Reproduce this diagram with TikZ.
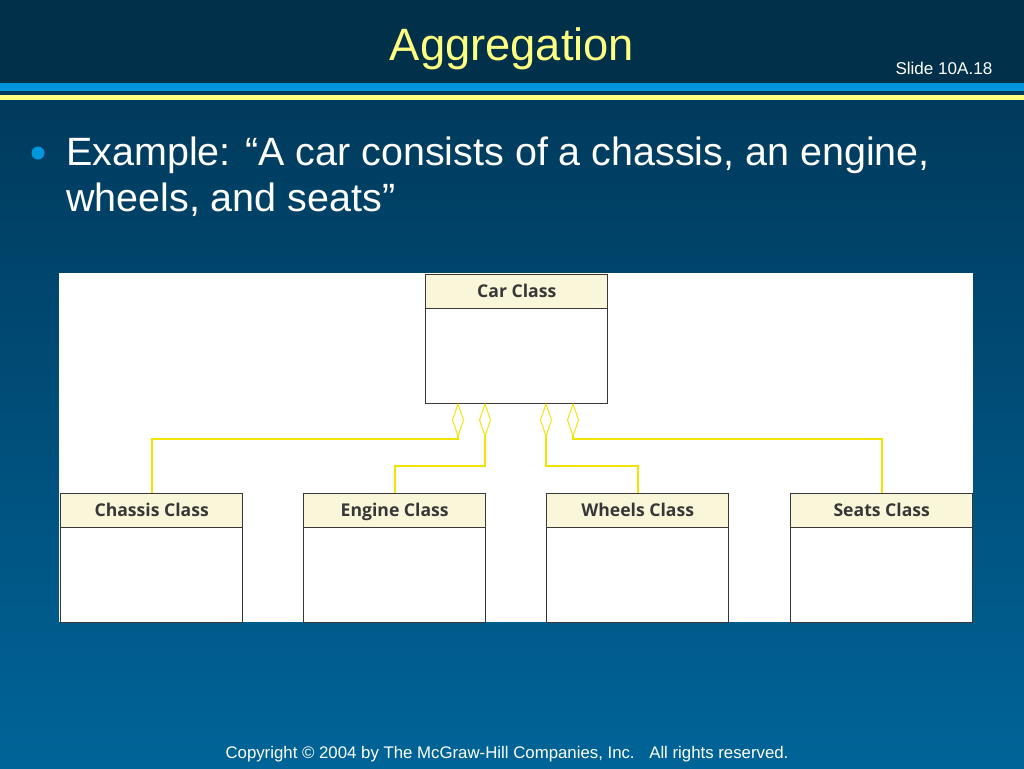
\documentclass[tikz,border=0pt]{standalone}
\usepackage{fontspec}
\setmainfont{Liberation Sans}
\newfontfamily\classfont{Open Sans}
\begin{document}
\begin{tikzpicture}[x=0.75pt,y=-0.75pt,
  classhead/.style={draw=black!78,line width=1.1pt,fill={rgb,255:red,250;green,246;blue,218},minimum width=182*0.75pt,minimum height=34*0.75pt,anchor=north west,inner sep=0pt,text height=9.5pt,text depth=0.5pt,font=\classfont\bfseries\fontsize{13.2}{15}\selectfont,text={rgb,255:red,55;green,55;blue,55}},
  classbody/.style={draw=black!78,line width=1.1pt,fill=white,minimum width=182*0.75pt,minimum height=95*0.75pt,anchor=north west,inner sep=0pt},
  agg/.style={draw={rgb,255:red,240;green,228;blue,0},line width=1.5pt},
  diam/.style={draw={rgb,255:red,240;green,228;blue,0},line width=0.7pt,fill=white}]
\definecolor{hdr}{RGB}{0,48,74}
\definecolor{bgtop}{RGB}{0,52,84}
\definecolor{bgbot}{RGB}{0,100,152}
\definecolor{stripeblue}{RGB}{0,150,220}
\definecolor{stripeyel}{RGB}{255,255,128}
\useasboundingbox (0,0) rectangle (1024,768);
\shade[top color=bgtop,bottom color=bgbot] (0,0) rectangle (1024,768);
\fill[hdr] (0,0) rectangle (1024,83);
\fill[stripeblue] (0,83) rectangle (1024,91);
\fill[stripeyel] (0,95) rectangle (1024,99.5);
\node[text=stripeyel,font=\fontsize{34}{38}\selectfont,anchor=base] (title) at (512,60) {Aggregation};
\node[text=white,font=\fontsize{12.8}{15}\selectfont,anchor=base east] (slide) at (997,74) {Slide 10A.18};
\fill[stripeblue] (38,153) circle (6.5) node (bullet) {};
\node[text=white,font=\fontsize{29.6}{34.5}\selectfont,anchor=base west,align=left,inner sep=0pt] (ex) at (66,211) {Example: “A car consists of a chassis, an engine,\\wheels, and seats”};
\fill[white] (59,273) rectangle (973,622);
% boxes
\node[classbody] (carb) at (425,308) {};
\node[classhead] (car) at (425,274) {Car Class};
\node[classbody] (chb) at (60,527) {};
\node[classhead] (ch) at (60,493) {Chassis Class};
\node[classbody] (enb) at (303,527) {};
\node[classhead] (en) at (303,493) {Engine Class};
\node[classbody] (whb) at (546,527) {};
\node[classhead] (wh) at (546,493) {Wheels Class};
\node[classbody] (seb) at (790,527) {};
\node[classhead] (se) at (790,493) {Seats Class};
% diamonds
\foreach \n/\x in {d1/458,d2/485,d3/546,d4/573}{
  \draw[diam] (\x,404) -- (\x+5.5,420) -- (\x,436) -- (\x-5.5,420) -- cycle;
  \coordinate (\n) at (\x,436);
}
\draw[agg] (d1) -- ++(0,3) -| (ch.north);
\draw[agg] (d2) -- ++(0,30) -| (en.north);
\draw[agg] (d3) -- ++(0,30) -| (wh.north);
\draw[agg] (d4) -- ++(0,3) -| (se.north);
\node[text=white,font=\fontsize{12.6}{15}\selectfont,anchor=base] (copy) at (507,758) {Copyright © 2004 by The McGraw-Hill Companies, Inc.\hspace{0.5em} All rights reserved.};
\end{tikzpicture}
\end{document}
